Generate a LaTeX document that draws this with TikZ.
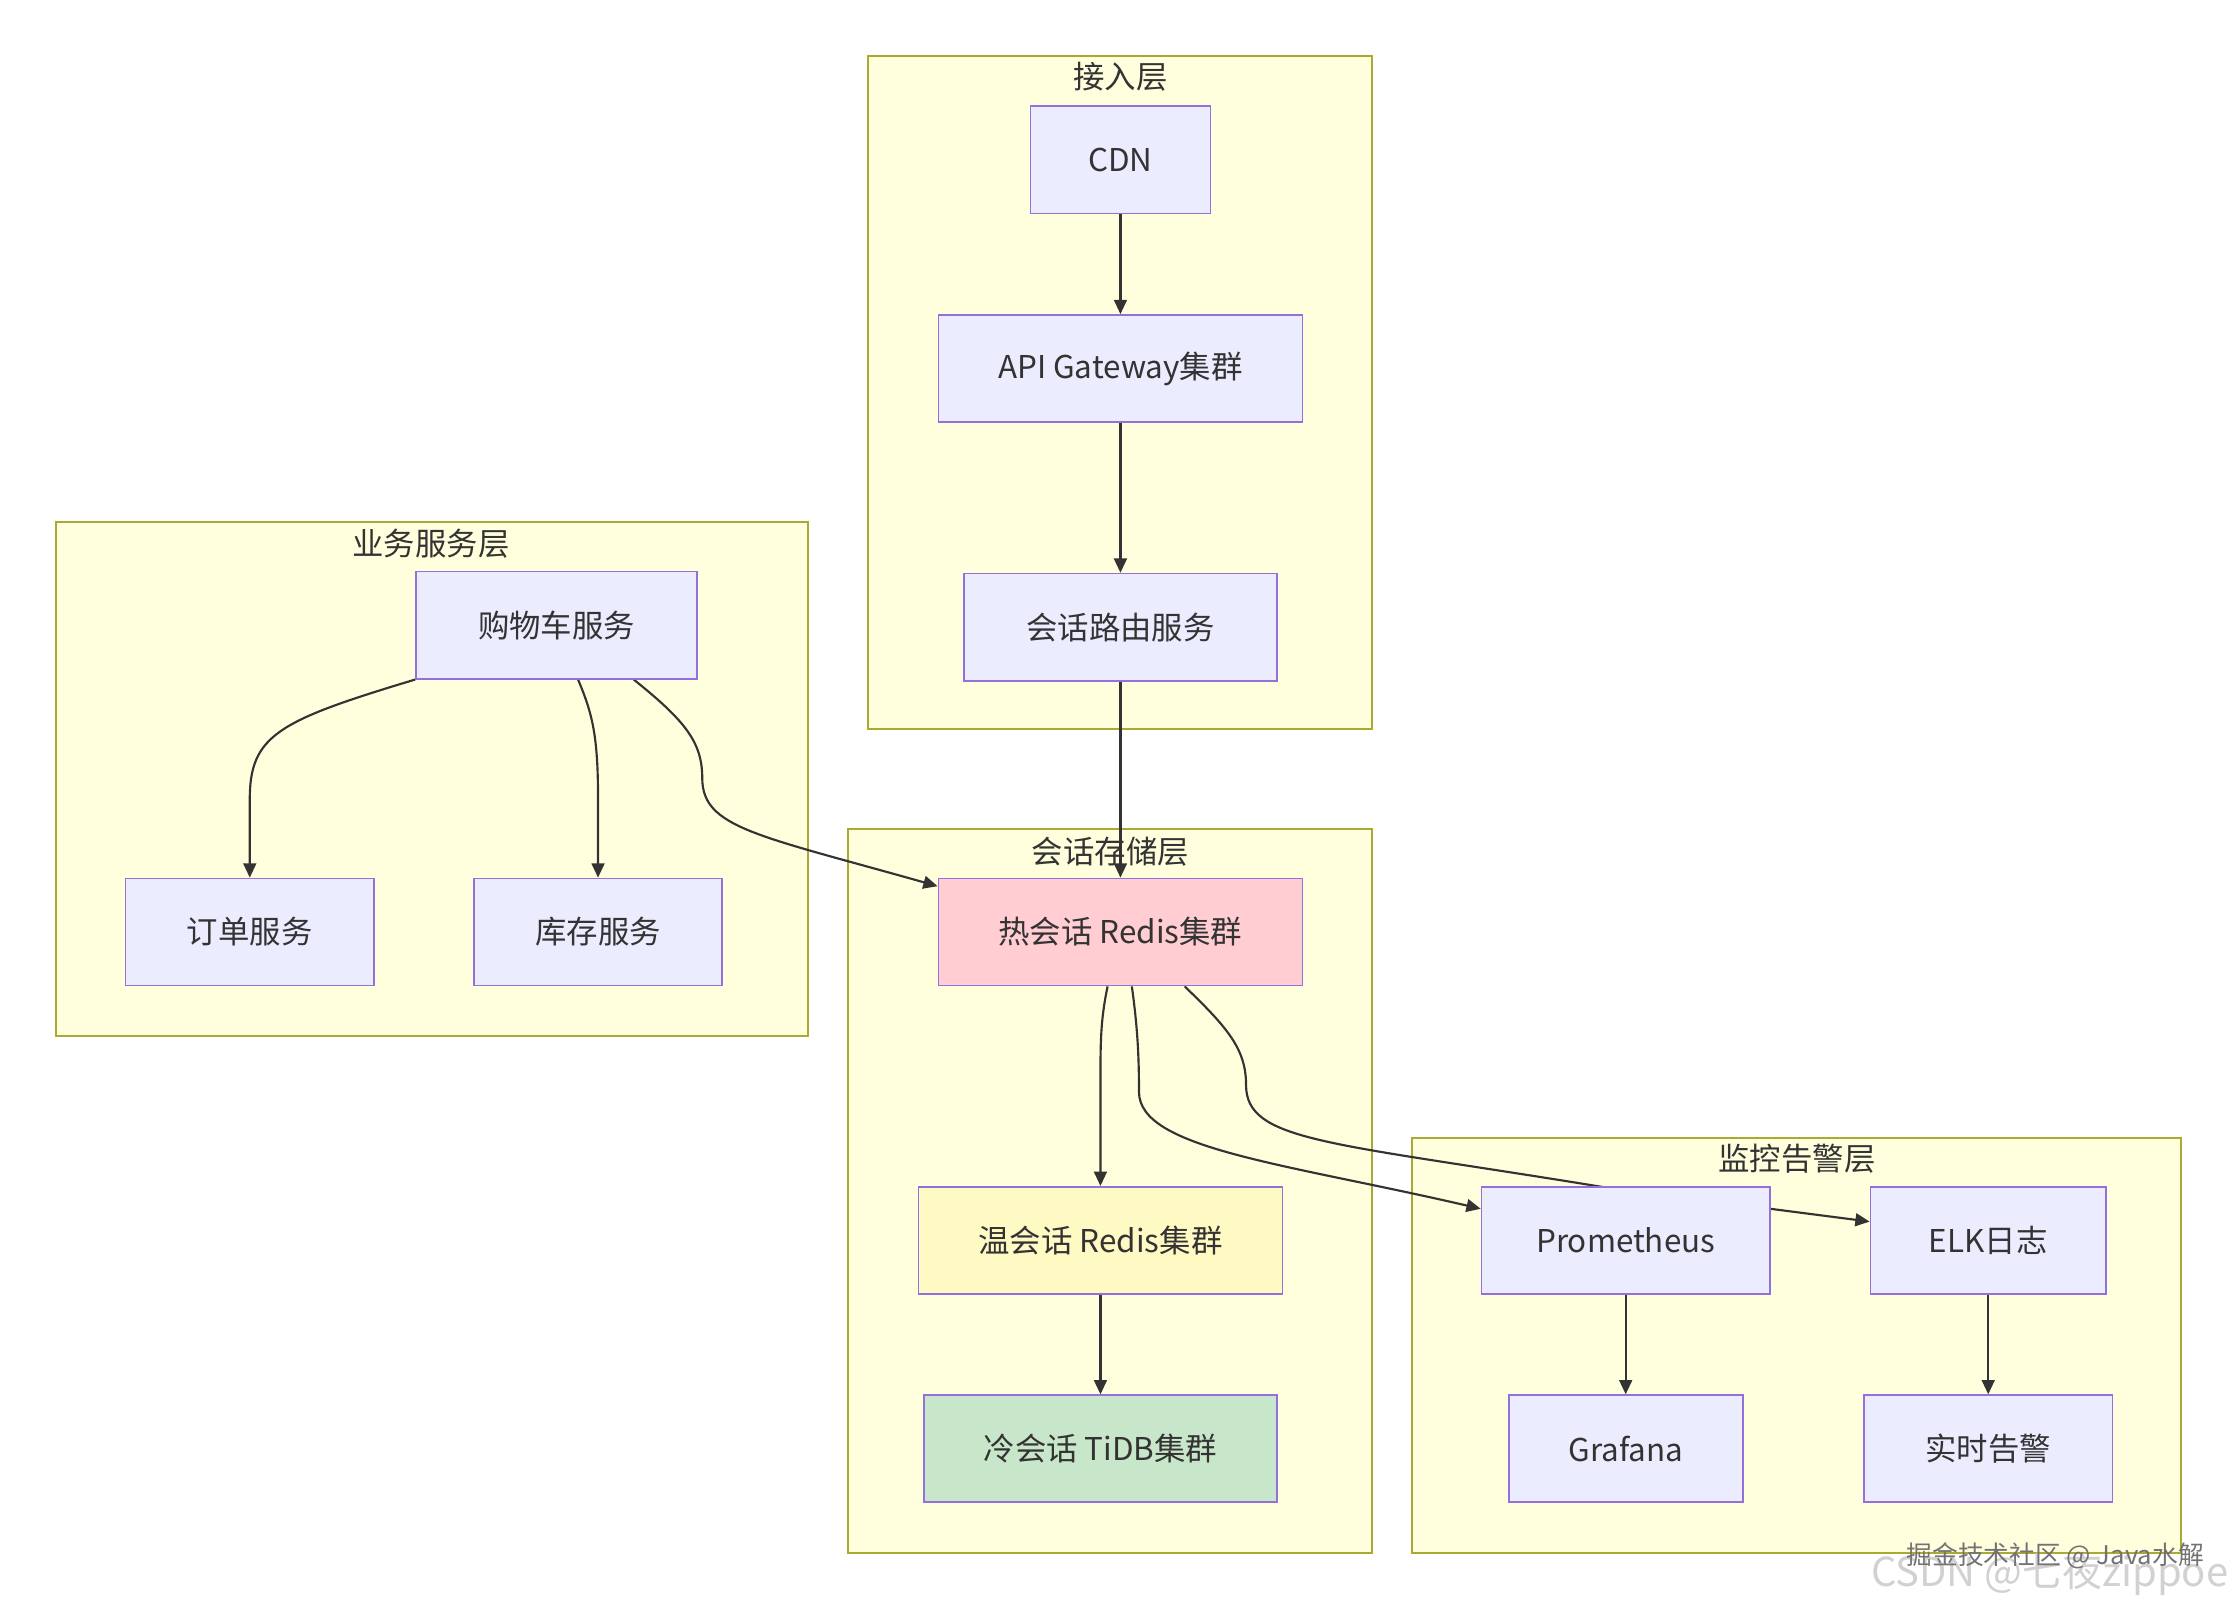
\documentclass[tikz,border=0pt]{standalone}
\usepackage{fontspec}
\setmainfont{Noto Sans CJK SC}
\usepackage{xcolor}
\usetikzlibrary{
  arrows.meta,
  positioning
}
\definecolor{layerfill}{HTML}{FFFFDE}
\definecolor{layerline}{HTML}{AAAA33}
\definecolor{boxfill}{HTML}{ECECFF}
\definecolor{boxline}{HTML}{9370DB}
\definecolor{hotfill}{HTML}{FFCDD2}
\definecolor{warmfill}{HTML}{FFF9C4}
\definecolor{coldfill}{HTML}{C8E6C9}
\definecolor{inkgray}{HTML}{333333}
\pgfdeclarelayer{back}
\pgfdeclarelayer{links}
\pgfsetlayers{back,links,main}

\begin{document}
\begin{tikzpicture}[
    x=0.5pt, y=-0.5pt,
    every node/.style = {font=\fontsize{11}{13}\selectfont, text=inkgray},
    box/.style = {draw=boxline, fill=boxfill, line width=0.6pt,
      minimum height=37.5pt, inner sep=0pt},
    layer/.style = {draw=layerline, fill=layerfill, line width=0.7pt},
    link/.style = {draw=inkgray, line width=0.75pt,
      -{Triangle[length=5pt,width=4.5pt]}}]
  \useasboundingbox (0,0) rectangle (1568,1127);
  % layers
  \begin{pgfonlayer}{back}
    \draw[layer] (608,39) rectangle (961,511);
    \draw[layer] (39,366) rectangle (566,726);
    \draw[layer] (594,581) rectangle (961,1088);
    \draw[layer] (989,797) rectangle (1528,1088);
  \end{pgfonlayer}
  \node (accessT)  at (785,54)   {接入层};
  \node (bizT)     at (302,381)  {业务服务层};
  \node (storeT)   at (778,597)  {会话存储层};
  \node (monT)     at (1259,812) {监控告警层};
  % access layer
  \node[box, minimum width=63pt] (cdn) at (785,112) {CDN};
  \node[box, minimum width=127.5pt, below=35pt of cdn] (gateway) {API Gateway集群};
  \node[box, minimum width=109.5pt, below=52.5pt of gateway] (router) {会话路由服务};
  % business layer
  \node[box, minimum width=98.5pt] (cart)  at (390,438) {购物车服务};
  \node[box, minimum width=87pt]   (order) at (175,653) {订单服务};
  \node[box, minimum width=87pt]   (stock) at (419,653) {库存服务};
  % storage layer
  \node[box, fill=hotfill, minimum width=127.5pt]  (hot)  at (785,653) {热会话 Redis集群};
  \node[box, fill=warmfill, minimum width=127.5pt] (warm) at (771,869) {温会话 Redis集群};
  \node[box, fill=coldfill, minimum width=123.5pt] (cold) at (771,1015) {冷会话 TiDB集群};
  % monitoring layer
  \node[box, minimum width=101pt]  (prom)    at (1139,869)  {Prometheus};
  \node[box, minimum width=82.5pt] (elk)     at (1393,869)  {ELK日志};
  \node[box, minimum width=82pt]   (grafana) at (1139,1015) {Grafana};
  \node[box, minimum width=87pt]   (alert)   at (1393,1015) {实时告警};
  % links
  \begin{pgfonlayer}{links}
    \draw[link] (cdn) -- (gateway);
    \draw[link] (gateway) -- (router);
    \draw[link] (router) -- (hot);
    \draw[link] (cart.south west) .. controls (195,505) and (175,515) .. (175,560) -- (order.north);
    \draw[link] ([xshift=7.5pt]cart.south) .. controls (415,500) and (419,515) .. (419,560) -- (stock.north);
    \draw[link] ([xshift=27pt]cart.south) .. controls (480,505) and (492,520) .. (492,545)
      .. controls (492,580) and (530,585) .. ([yshift=-3pt]hot.north west);
    \draw[link] ([xshift=-4.5pt]hot.south) .. controls (771,715) and (771,730) .. (771,760) -- (warm.north);
    \draw[link] (warm) -- (cold);
    \draw[link] ([xshift=4pt]hot.south) .. controls (797,720) and (798,740) .. (798,765)
      .. controls (798,805) and (900,815) .. ([yshift=-8pt]prom.north west);
    \draw[link] ([xshift=22.5pt]hot.south) .. controls (860,720) and (873,735) .. (873,760)
      .. controls (873,800) and (930,800) .. (1125,832) -- ([yshift=-12.5pt]elk.north west);
    \draw[link] (prom) -- (grafana);
    \draw[link] (elk) -- (alert);
  \end{pgfonlayer}
  % watermark
  \node[font=\fontsize{14}{16}\selectfont, text=black!18] (csdn) at (1436,1103) {CSDN @七夜zippoe};
  \node[font=\fontsize{9}{11}\selectfont, text=black!55] (juejin) at (1440,1090) {掘金技术社区 @ Java水解};
\end{tikzpicture}
\end{document}
